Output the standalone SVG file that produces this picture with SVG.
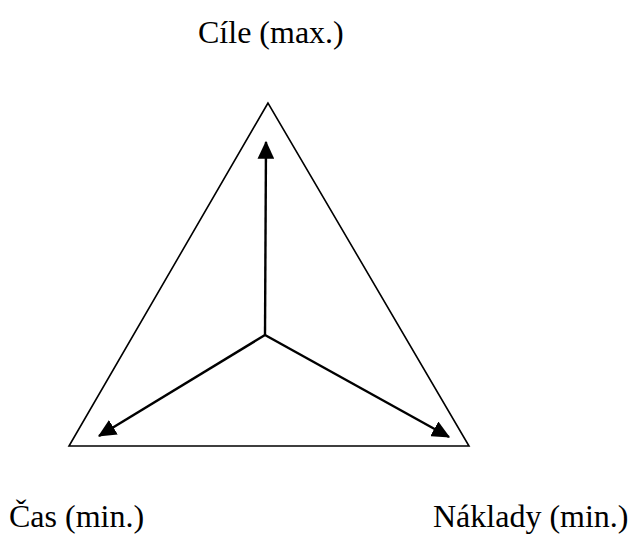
<svg xmlns="http://www.w3.org/2000/svg" width="631" height="544" viewBox="0 0 631 544">
<style>
.lbl{font-family:"Liberation Serif","Times New Roman",serif;font-size:32px;fill:#000}
.tri{fill:none;stroke:#000;stroke-width:1.6}
.arr{fill:none;stroke:#000;stroke-width:2.4;marker-end:url(#ah)}
</style>
<defs>
<marker id="ah" markerWidth="8" markerHeight="7" refX="7" refY="3.5" orient="auto" markerUnits="strokeWidth">
<path d="M0,0 L7.5,3.5 L0,7 Z" fill="#000"/>
</marker>
</defs>
<rect width="631" height="544" fill="#fff"/>
<g id="triangle"><path class="tri" d="M268,103 L69,446 L469,446 Z"/></g>
<g id="cile"><text class="lbl" x="198" y="43">Cíle (max.)</text></g>
<g id="cas"><text class="lbl" x="9" y="527">Čas (min.)</text></g>
<g id="naklady"><text class="lbl" x="433" y="527">Náklady (min.)</text></g>
<g id="connectors">
<path class="arr" d="M265,335 L266,142"/>
<path class="arr" d="M265,335 L99,436"/>
<path class="arr" d="M265,335 L449,437"/>
</g>
</svg>
